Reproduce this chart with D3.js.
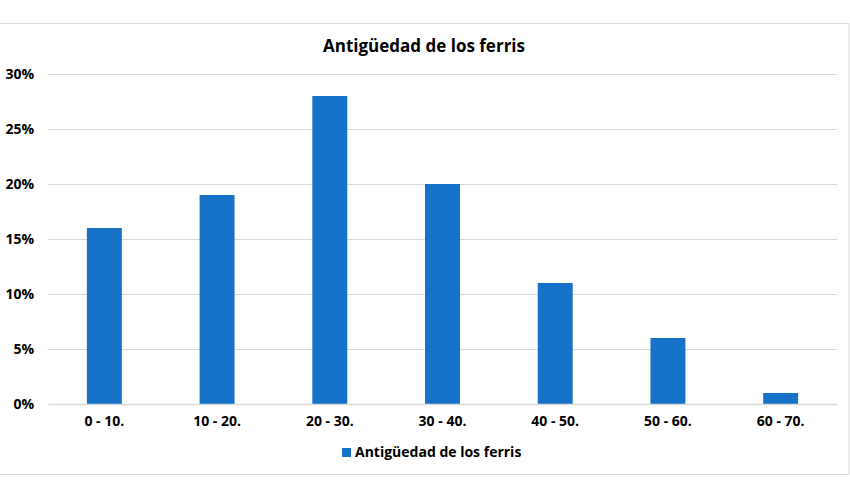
<!DOCTYPE html>
<html lang="es">
  <head>
    <meta charset="utf-8" />
    <title>Antigüedad de los ferris</title>
    <script src="https://d3js.org/d3.v7.js"></script>
    <style>
      body { margin: 0; background: #fff; }
      text { font-family: "Open Sans", "Noto Sans", sans-serif; font-weight: bold; fill: #000; }
    </style>
  </head>
  <body>
    <div id="graph"></div>
    <script>

    // data
    var categories = ["0 - 10.", "10 - 20.", "20 - 30.", "30 - 40.", "40 - 50.", "50 - 60.", "60 - 70."];
    var values = [16, 19, 28, 20, 11, 6, 1];
    var yTicks = [0, 5, 10, 15, 20, 25, 30];
    var seriesName = "Antigüedad de los ferris";

    var w = 850, h = 499;
    var margin = {top: 74, right: 13, bottom: 95, left: 48};
    var innerWidth = w - margin.left - margin.right;
    var innerHeight = h - margin.top - margin.bottom;
    var barColor = "#1672c9";

    var svg = d3.select("#graph")
      .append("svg")
        .attr("width", w)
        .attr("height", h);

    // chart border
    svg.append("rect")
      .attr("x", -1)
      .attr("y", 23.5)
      .attr("width", 850)
      .attr("height", 451)
      .attr("fill", "none")
      .attr("stroke", "#d9d9d9");

    var g = svg.append("g")
      .attr("transform", `translate(${margin.left},${margin.top})`);

    var x = d3.scaleBand()
      .domain(categories)
      .range([0, innerWidth])
      .paddingInner(0.69)
      .paddingOuter(0.345);

    var y = d3.scaleLinear()
      .domain([0, 30])
      .range([innerHeight, 0]);

    // gridlines
    g.append("g")
      .selectAll("line")
      .data(yTicks)
      .join("line")
        .attr("x1", 0)
        .attr("x2", innerWidth)
        .attr("y1", d => y(d) + 0.5)
        .attr("y2", d => y(d) + 0.5)
        .attr("stroke", "#d9d9d9");

    // y axis
    var yAxis = g.append("g")
      .call(d3.axisLeft(y).tickValues(yTicks).tickFormat(d => d + "%").tickSize(0).tickPadding(14));
    yAxis.select(".domain").remove();
    yAxis.selectAll("text").style("font-size", "14px").attr("font-family", null);

    // bars
    g.selectAll("rect.bar")
      .data(values)
      .join("rect")
        .attr("class", "bar")
        .attr("x", (d, i) => x(categories[i]))
        .attr("y", d => y(d))
        .attr("width", x.bandwidth())
        .attr("height", d => innerHeight - y(d))
        .attr("fill", barColor);

    // x axis
    var xAxis = g.append("g")
      .attr("transform", `translate(0,${innerHeight})`)
      .call(d3.axisBottom(x).tickSize(0).tickPadding(12));
    xAxis.select(".domain").attr("stroke", "#d9d9d9").attr("stroke-width", 1.5);
    xAxis.selectAll("text").style("font-size", "14px").attr("font-family", null);

    // title
    svg.append("text")
      .attr("x", 424)
      .attr("y", 52)
      .attr("text-anchor", "middle")
      .style("font-size", "17px")
      .text(seriesName);

    // legend
    var legend = svg.append("g").attr("transform", "translate(342,448)");
    legend.append("rect")
      .attr("width", 9)
      .attr("height", 9)
      .attr("fill", barColor);
    legend.append("text")
      .attr("x", 13)
      .attr("y", 9)
      .style("font-size", "14px")
      .text(seriesName);

    </script>
  </body>
</html>
